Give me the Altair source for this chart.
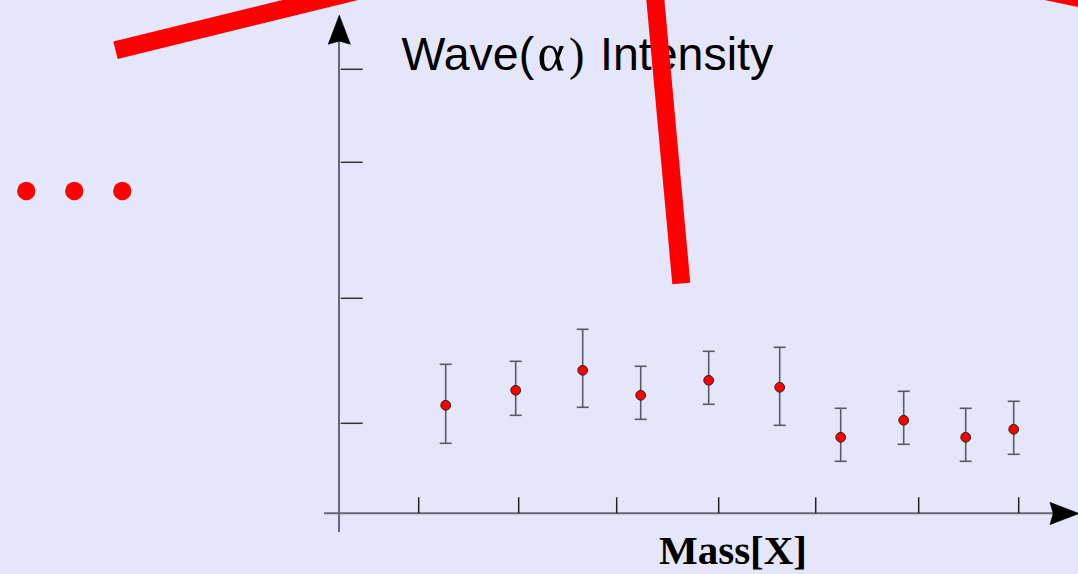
import altair as alt
import pandas as pd

# ---- data ----
mass = [1.27, 1.97, 2.64, 3.22, 3.90, 4.61, 5.22, 5.85, 6.47, 6.95]
intensity = [1.08, 1.23, 1.43, 1.18, 1.33, 1.26, 0.76, 0.93, 0.76, 0.84]
err_hi = [1.49, 1.52, 1.84, 1.47, 1.62, 1.66, 1.05, 1.22, 1.05, 1.12]
err_lo = [0.70, 0.98, 1.06, 0.94, 1.09, 0.88, 0.52, 0.69, 0.52, 0.59]
x_ticks = [1.0, 2.0, 2.98, 4.0, 4.97, 6.0, 7.0]
y_ticks = [0.90, 2.15, 3.51, 4.44]

W, H = 1078, 574
BG = "#E6E6FA"

pts = pd.DataFrame({"mass": mass, "intensity": intensity, "hi": err_hi, "lo": err_lo})
xt = pd.DataFrame({"x": x_ticks, "y0": [0.0] * len(x_ticks), "y1": [0.16] * len(x_ticks)})
yt = pd.DataFrame({"y": y_ticks, "x0": [0.22] * len(y_ticks), "x1": [0.44] * len(y_ticks)})

xs = alt.Scale(domain=[-3.187, 7.593], nice=False, zero=False)
ys = alt.Scale(domain=[-0.607, 5.133], nice=False, zero=False)

X = lambda f: alt.X(f, type="quantitative", scale=xs, axis=None)
Y = lambda f: alt.Y(f, type="quantitative", scale=ys, axis=None)

one = alt.Data(values=[{"k": 1}])

# axes drawn through scales
axes_df = pd.DataFrame({
    "x0": [0.203, 0.053], "x1": [0.203, 7.353],
    "y0": [-0.187, 0.0], "y1": [4.723, 0.0],
})
axis_lines = alt.Chart(axes_df).mark_rule(stroke="#666677", strokeWidth=2).encode(
    x=X("x0"), x2="x1", y=Y("y0"), y2="y1")

xtick_layer = alt.Chart(xt).mark_rule(stroke="#222222", strokeWidth=1.5).encode(
    x=X("x"), y=Y("y0"), y2="y1")
ytick_layer = alt.Chart(yt).mark_rule(stroke="#333333", strokeWidth=1.5).encode(
    x=X("x0"), x2="x1", y=Y("y"))

# arrow heads
arrow_up = "M0,-1L0.76,1L0,0.78L-0.76,1Z"
arrow_right = "M1,0L-1,0.76L-0.78,0L-1,-0.76Z"
arrow1 = alt.Chart(one).mark_point(shape=arrow_up, filled=True, fill="black", stroke="black",
                                   strokeWidth=0.5, size=860, opacity=1).encode(
    x=alt.value(339.3), y=alt.value(29.7))
arrow2 = alt.Chart(one).mark_point(shape=arrow_right, filled=True, fill="black", stroke="black",
                                   strokeWidth=0.5, size=860, opacity=1).encode(
    x=alt.value(1064.6), y=alt.value(513.5))

# error bars
bars = alt.Chart(pts).mark_rule(stroke="#5a5a66", strokeWidth=1.6).encode(
    x=X("mass"), y=Y("lo"), y2="hi")
cap_hi = alt.Chart(pts).mark_tick(orient="horizontal", size=12, thickness=1.6, color="#5a5a66", opacity=1).encode(
    x=X("mass"), y=Y("hi"))
cap_lo = alt.Chart(pts).mark_tick(orient="horizontal", size=12, thickness=1.6, color="#5a5a66", opacity=1).encode(
    x=X("mass"), y=Y("lo"))
dots = alt.Chart(pts).mark_circle(size=95, fill="#FF0000", stroke="#222222", strokeWidth=1, opacity=1).encode(
    x=X("mass"), y=Y("intensity"))

# decorations
def red_line(x1, y1, x2, y2):
    return alt.Chart(one).mark_rule(stroke="#FF0000", strokeWidth=18, strokeCap="butt").encode(
        x=alt.value(x1), x2=alt.value(x2), y=alt.value(y1), y2=alt.value(y2))

lineA = red_line(115.5, 50.2, 420, -24.4)
lineB = red_line(681.3, 283.5, 650.8, -50)
lineC = red_line(1000, -18.6, 1100, 2.5)

red_dots = [
    alt.Chart(one).mark_circle(size=336, color="#FF0000", opacity=1).encode(
        x=alt.value(cx), y=alt.value(191))
    for cx in (26.3, 74.3, 122.3)
]

def txt(s, x, y, font, size, weight="normal", align="left"):
    return alt.Chart(one).mark_text(text=s, font=font, fontSize=size, fontWeight=weight, align=align,
                                    baseline="alphabetic", color="black").encode(
        x=alt.value(x), y=alt.value(y))

title1 = txt("Wave(", 401.5, 70, "Liberation Sans", 46.5)
title2 = txt("α", 537.5, 70, "Liberation Serif", 52)
title3 = txt(")", 569, 70, "Liberation Serif", 46.5)
title4 = txt("Intensity", 600, 70, "Liberation Sans", 46.5)
xlabel = txt("Mass[X]", 733, 564, "Liberation Serif", 41, weight="bold", align="center")

chart = alt.layer(
    axis_lines, xtick_layer, ytick_layer, arrow1, arrow2,
    bars, cap_hi, cap_lo, dots,
    title1, title2, title3, title4, xlabel,
    *red_dots, lineA, lineB, lineC,
).properties(
    width=W, height=H,
    autosize=alt.AutoSizeParams(type="none"),
    padding=0,
    background=BG,
).configure_view(stroke=None)

chart.save("out.html", embed_options={"renderer": "svg", "actions": False})
